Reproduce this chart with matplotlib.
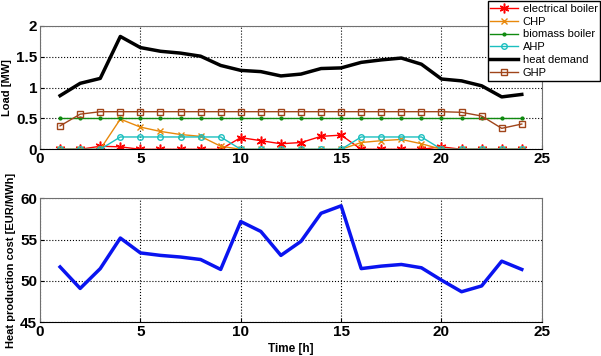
import numpy as np
import matplotlib.pyplot as plt

plt.rcParams['font.family'] = ['Liberation Sans', 'DejaVu Sans']

hours = list(range(1, 25))

# load per source [MW]
elec_boiler = [0, 0, 0.05, 0.04, 0, 0, 0, 0, 0, 0.19, 0.14, 0.09,
               0.11, 0.21, 0.23, 0, 0, 0, 0, 0.04, 0, 0, 0, 0]
chp = [0, 0, 0, 0.49, 0.36, 0.29, 0.24, 0.21, 0.05, 0, 0, 0,
       0, 0, 0, 0.11, 0.14, 0.16, 0.09, 0, 0, 0, 0, 0]
biomass = [0.5] * 24
ahp = [0, 0, 0, 0.2, 0.2, 0.2, 0.2, 0.2, 0.2, 0, 0, 0,
       0, 0, 0, 0.2, 0.2, 0.2, 0.2, 0, 0, 0, 0, 0]
heat_demand = [0.87, 1.07, 1.15, 1.83, 1.65, 1.59, 1.56, 1.51, 1.36, 1.28, 1.26, 1.19,
               1.22, 1.31, 1.32, 1.41, 1.45, 1.48, 1.38, 1.14, 1.11, 1.03, 0.85, 0.89]
ghp = [0.38, 0.57, 0.61, 0.61, 0.61, 0.61, 0.61, 0.61, 0.61, 0.61, 0.61, 0.61,
       0.61, 0.61, 0.61, 0.61, 0.61, 0.61, 0.61, 0.61, 0.60, 0.54, 0.34, 0.41]

# heat production cost [EUR/MWh]
cost = [51.7, 49.1, 51.5, 55.2, 53.4, 53.1, 52.9, 52.6, 51.4, 57.2, 56.0, 53.1,
        54.8, 58.2, 59.1, 51.5, 51.8, 52.0, 51.6, 50.1, 48.7, 49.4, 52.4, 51.4]

fig = plt.figure(figsize=(6.01, 3.56), dpi=100)
ax1 = fig.add_axes([0.0666, 0.5806, 0.835, 0.3464])
ax2 = fig.add_axes([0.0666, 0.0947, 0.835, 0.348])

l1, = ax1.plot(hours, elec_boiler, color='red', marker=(6, 2, 0), ms=7, mew=1.1, lw=1, label='electrical boiler')
l2, = ax1.plot(hours, chp, color='#E8890C', marker='x', ms=4, lw=1, label='CHP')
l3, = ax1.plot(hours, biomass, color='#108A10', marker='.', ms=4, lw=1, label='biomass boiler')
l4, = ax1.plot(hours, ahp, color='#1BBFBF', marker='o', ms=4, mfc='none', lw=1, label='AHP')
l5, = ax1.plot(hours, heat_demand, color='black', lw=2.5, label='heat demand')
l6, = ax1.plot(hours, ghp, color='#A0451A', marker='s', ms=5, mfc='none', lw=1, label='GHP')

ax2.plot(hours, cost, color='#0A14F0', lw=2.5)

ax1.set_ylim(0, 2)
ax1.set_yticks([0, 0.5, 1, 1.5, 2])
ax1.set_yticklabels(['0', '0.5', '1', '1.5', '2'])
ax2.set_ylim(45, 60)
ax2.set_yticks([45, 50, 55, 60])

for ax in (ax1, ax2):
    ax.set_xlim(0, 25)
    ax.set_xticks([0, 5, 10, 15, 20, 25])
    ax.grid(True, linestyle=':', color='black', lw=0.8)
    ax.tick_params(direction='in', length=3, labelsize=11, pad=2)
    for lab in ax.get_xticklabels() + ax.get_yticklabels():
        lab.set_fontweight('bold')
    for s in ax.spines.values():
        s.set_color('#707070')
    ax.spines['bottom'].set_color('black')

ax1.set_ylabel('Load [MW]', fontsize=8, fontweight='bold', labelpad=3)
ax2.set_ylabel('Heat production cost [EUR/MWh]', fontsize=8, fontweight='bold', labelpad=3)
ax2.set_xlabel('Time [h]', fontsize=8.5, fontweight='bold', labelpad=3)

fig.legend(handles=[l1, l2, l3, l4, l5, l6], loc='upper right',
           bbox_to_anchor=(0.999, 0.997), fontsize=8, frameon=True, fancybox=False,
           edgecolor='black', framealpha=1, borderpad=0.25, labelspacing=0.25,
           handlelength=2.5, handletextpad=0.4, borderaxespad=0.0)

fig.savefig('out.png', dpi=100)
